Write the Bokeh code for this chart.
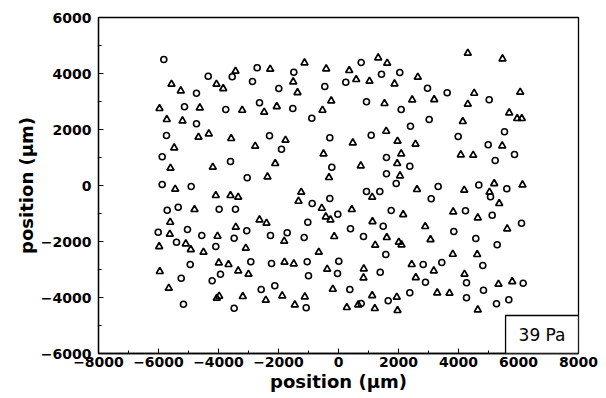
from bokeh.plotting import figure
from bokeh.models import Range1d, SingleIntervalTicker, Label
from bokeh.embed import file_html
from bokeh.resources import INLINE

# circles (x, y in micrometres)
circle_x = [-5823, -4343, -3543, -2710, -2867, -4733, -1990, -5133, -3757, -2633,
            -4733, -5733, -2300, -1900, -5877, -3600, -3043, -5877, -4910,
            757, -1490, 1433, 2043, 243, -457, -1523, -890, 933, 2090,
            2400, -290, 1090, 1600, -223, 2377, 1600, 1923,
            2967, 3623, 5023, 3023, 5533, 3990, 4990, 5867, 5223, 3323, 4677, 5610,
            -5710, -5343, -3977, -3433, -6010, -5033, -4557, -5400, -4090, -3477,
            -3057, -2267, -1710, -4943, -5243, -3933, -4210, -2923, -2233, -2577,
            -2123, -5167, -3477,
            933, 1377, -290, -877, -23, 1757, -1023, -1143, 400, 833, 1490, 1577,
            -1043, 10, -33, -1000, 1390, 377, 2377, 757, 1657, -1077,
            3090, 5067, 4233, 5123, 6100, 3843, 4577, 5290, 2823, 3443, 4810, 2900,
            4267, 6157, 4833, 4267, 5677, 5267]
circle_y = [4500, 3904, 3882, 4204, 3714, 3296, 3464, 2811, 2714, 2954,
            2204, 1786, 1775, 1296, 1025, 857, 275, 36, -36,
            4393, 4046, 3975, 4036, 3689, 3536, 2750, 2404, 2989, 2714,
            2118, 1704, 1796, 1000, 654, 689, 418, 71,
            3475, 3311, 3061, 2357, 1918, 1750, 1454, 1107, 893, -36, 18, -118,
            -882, -775, -846, -846, -1668, -1571, -1786, -2025, -2179, -1882,
            -1618, -1786, -1689, -2821, -3311, -3168, -3404, -2725, -2786, -3714,
            -3582, -4239, -4382,
            -214, -214, -464, -643, -1025, -893, -1311, -1857, -1546, -1821, -1454, -2464,
            -2725, -2704, -3143, -3225, -3096, -3714, -3832, -4214, -4118, -4368,
            -475, -404, -904, -1061, -1346, -1643, -1893, -2118, -2821, -2750, -2857, -3454,
            -3475, -3489, -3739, -4011, -4082, -4225]

# triangles (x, y in micrometres)
tri_x = [-3433, -2277, -5567, -5257, -4067, -3843, -5967, -4623, -3210, -2477,
         -2057, -5723, -5200, -4667, -4323, -3577, -1767, -5477, -2777, -5600,
         -4190, -2110, -2367,
         -1133, -410, 357, 1323, 1623, -1510, -1367, 590, 1033, 1867, 2643,
         -243, -533, 1533, 2457, 477, 1590, 1967, 2567, -500, 2090, 743, 1957,
         -317, 2050,
         4310, 5467, 3190, 4523, 4310, 6057, 5690, 5957, 6110, 4143, 4077, 4490,
         5457, 5190, 6133,
         -5443, -4090, -3600, -3343, -4800, -5610, -5623, -3423, -2633, -2400,
         -4033, -5977, -5090, -4923, -4500, -3090, -1810, -3990, -3667, -1800,
         -5957, -3343, -3000, -5657, -4057, -3977, -3190, -2423, -1877,
         -1243, -1333, 1123, 2617, -557, 443, -423, -267, 2157, -143, 1133,
         1610, 1223, 2010, 2100, -657, -1490, -377, 843, 833, 2440, 2577,
         -190, -1123, -1457, 277, 657, 1210, 1123, 1943, 1967,
         4190, 5033, 5357, 3823, 4643, 2890, 5623, 3067, 3810, 4623, 3177, 4200,
         5333, 5790, 3290, 3700, 4643]
tri_y = [4082, 4154, 3618, 3382, 3618, 3464, 2750, 2775, 2689, 2618,
         2821, 2357, 2311, 1725, 1846, 1679, 1618, 1346, 1404, 618,
         654, 786, 311,
         4382, 4168, 4107, 4561, 4368, 3704, 3321, 3786, 3725, 3632, 3868,
         3025, 2689, 2929, 3061, 1525, 1939, 1582, 1475, 1132, 1132, 704, 786,
         286, 346,
         4725, 4525, 3071, 3296, 2904, 3332, 2596, 2393, 2393, 2286, 1096, 1082,
         1418, 71, 25,
         -132, -357, -357, -418, -857, -1311, -1739, -1489, -1225, -1346,
         -1811, -2179, -2082, -2286, -2382, -2239, -1989, -2761, -2821, -2739,
         -3071, -3046, -3168, -3668, -4025, -3954, -3964, -4096, -3939,
         -239, -561, -418, -143, -811, -857, -1118, -1225, -1036, -1821, -1286,
         -1857, -2132, -2025, -2118, -2382, -2796, -2989, -2975, -3296, -2821, -3286,
         -3704, -3975, -4261, -4357, -4261, -4393, -3929, -3989, -4464,
         -168, -239, -643, -939, -1154, -1464, -1546, -1929, -2454, -2464, -3046, -3168,
         -3525, -3429, -3832, -3846, -4439]

tick_values = [-8000, -6000, -4000, -2000, 0, 2000, 4000, 6000, 8000]
tick_labels = ["\u22128000", "\u22126000", "\u22124000", "\u22122000", "0",
               "2000", "4000", "6000", "8000"]
x_label = "position (\u03bcm)"
y_label = "position (\u03bcm)"
box_text = "39 Pa"

FONT = "DejaVu Sans"

p = figure(width=606, height=398, output_backend="svg", toolbar_location=None,
           x_range=Range1d(-8000, 8000), y_range=Range1d(-6000, 6000),
           min_border_left=98, min_border_right=28, min_border_top=17,
           min_border_bottom=45)
p.grid.visible = False
p.background_fill_color = "white"
p.border_fill_color = "white"
p.outline_line_color = "black"
p.outline_line_width = 1.3

overrides = {v: t for v, t in zip(tick_values, tick_labels)}
for ax in (p.xaxis[0], p.yaxis[0]):
    ax.ticker = SingleIntervalTicker(interval=2000, num_minor_ticks=2)
    ax.major_label_overrides = overrides
    ax.major_tick_in = 5
    ax.major_tick_out = 0
    ax.minor_tick_in = 3
    ax.minor_tick_out = 0
    ax.axis_line_color = "black"
    ax.axis_line_width = 1.3
    ax.major_label_text_font = FONT
    ax.major_label_text_font_size = "14px"
    ax.major_label_text_font_style = "bold"
    ax.major_label_text_color = "black"
    ax.axis_label_text_font = FONT
    ax.axis_label_text_font_size = "18px"
    ax.axis_label_text_font_style = "bold"
    ax.axis_label_text_color = "black"
    ax.axis_label_standoff = 1
p.xaxis[0].major_label_standoff = 3
p.yaxis[0].major_label_standoff = 7

p.xaxis.axis_label = x_label
p.yaxis.axis_label = y_label

p.scatter(circle_x, circle_y, marker="circle", size=6, fill_color=None,
          line_color="black", line_width=1.6)
p.scatter(tri_x, tri_y, marker="triangle", size=7, fill_color=None,
          line_color="black", line_width=1.7)

lab = Label(x=8000, y=-6000, text=box_text, anchor="bottom_right",
            text_font=FONT, text_font_size="17px", text_color="black",
            border_line_color="black", border_line_width=1.3,
            background_fill_color="white",
            padding=dict(left=13, right=13, top=9, bottom=9))
p.add_layout(lab)

open("out.html", "w").write(file_html(p, INLINE))
